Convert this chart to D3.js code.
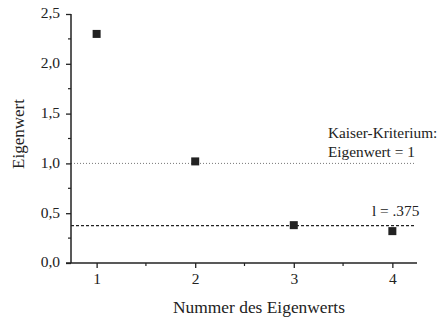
<!DOCTYPE html>
<html><head><meta charset="utf-8">
<script src="https://cdn.jsdelivr.net/npm/d3@7"></script>
<style>
html,body{margin:0;padding:0;background:#fff;}
</style></head>
<body><svg id="chart" width="437" height="320"></svg>
<script>
// Scree plot of eigenvalues with Kaiser criterium and cut-off line
const eigenNumbers = [1, 2, 3, 4];
const eigenValues = [2.30, 1.02, 0.38, 0.32];
const yTicks = [0, 0.5, 1.0, 1.5, 2.0, 2.5];
const kaiserValue = 1;
const cutoffValue = 0.375;

const serif = "'Liberation Serif', 'Times New Roman', Times, serif";
const ink = "#222";

const svg = d3.select("#chart");
const plotLeft = 71, plotRight = 417, plotTop = 14, plotBottom = 263;

const x = d3.scaleLinear().domain([0.74, 4.25]).range([plotLeft, plotRight]);
const y = d3.scaleLinear().domain([0, 2.5]).range([plotBottom, plotTop]);
const fmt = d => d3.format(".1f")(d).replace(".", ",");

// reference lines
svg.append("line")
  .attr("x1", plotLeft).attr("x2", 415)
  .attr("y1", y(kaiserValue)).attr("y2", y(kaiserValue))
  .attr("stroke", "#777").attr("stroke-width", 1).attr("stroke-dasharray", "1,2");
svg.append("line")
  .attr("x1", plotLeft).attr("x2", 415)
  .attr("y1", y(cutoffValue)).attr("y2", y(cutoffValue))
  .attr("stroke", ink).attr("stroke-width", 1.3).attr("stroke-dasharray", "3,2");

// y axis
const yAxis = d3.axisLeft(y).tickValues(yTicks).tickFormat(fmt).tickSize(5).tickPadding(6);
const gy = svg.append("g").attr("transform", `translate(${plotLeft},0)`).call(yAxis)
  .attr("font-family", serif).attr("font-size", 15.5);
gy.selectAll("line").attr("stroke", ink).attr("stroke-width", 1.3);
gy.select(".domain").attr("stroke", ink).attr("stroke-width", 1.5).attr("d", `M0,${plotBottom}V${plotTop}`);
gy.selectAll("text").attr("fill", ink).attr("dy", "0.25em");
const yMinor = d3.range(0.25, 2.5, 0.5);
svg.append("g").selectAll("line").data(yMinor).join("line")
  .attr("x1", plotLeft - 3).attr("x2", plotLeft)
  .attr("y1", d => y(d)).attr("y2", d => y(d))
  .attr("stroke", ink).attr("stroke-width", 1.2);

// x axis
const xAxis = d3.axisBottom(x).tickValues(eigenNumbers).tickFormat(d3.format("d")).tickSize(5).tickPadding(5);
const gx = svg.append("g").attr("transform", `translate(0,${plotBottom})`).call(xAxis)
  .attr("font-family", serif).attr("font-size", 15.5);
gx.selectAll("line").attr("stroke", ink).attr("stroke-width", 1.3);
gx.select(".domain").attr("stroke", ink).attr("stroke-width", 1.5).attr("d", `M${plotLeft - 5},0H${plotRight}`);
gx.selectAll("text").attr("fill", ink);
const xMinor = [1.5, 2.5, 3.5];
svg.append("g").selectAll("line").data(xMinor).join("line")
  .attr("x1", d => x(d)).attr("x2", d => x(d))
  .attr("y1", plotBottom).attr("y2", plotBottom + 3)
  .attr("stroke", ink).attr("stroke-width", 1.2);

// points
svg.append("g").selectAll("rect").data(eigenNumbers).join("rect")
  .attr("x", d => x(d) - 4).attr("y", (d, i) => y(eigenValues[i]) - 4)
  .attr("width", 8).attr("height", 8).attr("fill", ink);

// annotations
const label = (tx, ty, size, str) => svg.append("text")
  .attr("x", tx).attr("y", ty).attr("font-family", serif).attr("font-size", size)
  .attr("fill", ink).text(str);
label(328, 138, 15.3, "Kaiser-Kriterium:");
label(328, 157, 15.3, "Eigenwert = 1");
label(372, 216, 15.3, "l = .375");

// axis titles
label(259, 313, 17.4, "Nummer des Eigenwerts").attr("text-anchor", "middle");
label(0, 0, 17, "Eigenwert").attr("text-anchor", "middle")
  .attr("transform", "translate(23.5,134) rotate(-90)");
</script></body></html>
